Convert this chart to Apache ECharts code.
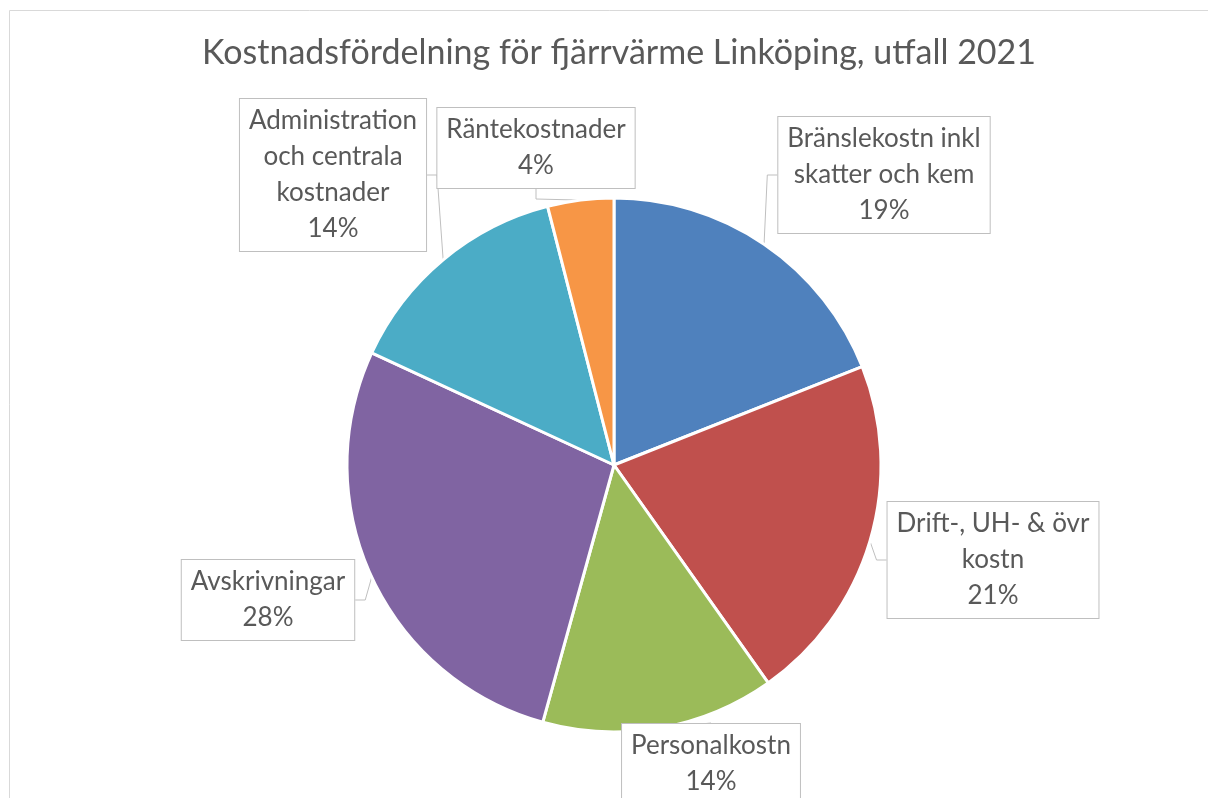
<!DOCTYPE html>
<html>
<head>
<meta charset="utf-8">
<script src="https://cdn.jsdelivr.net/npm/echarts@6/dist/echarts.min.js"></script>
<style>
  html, body { margin: 0; padding: 0; background: #fff; }
  #chart { width: 1208px; height: 798px; }
</style>
</head>
<body>
<div id="chart"></div>
<script>
// kategorier och andelar (procent)
var categories = [
  'Bränslekostn inkl\nskatter och kem',
  'Drift-, UH- & övr\nkostn',
  'Personalkostn',
  'Avskrivningar',
  'Administration\noch centrala\nkostnader',
  'Räntekostnader'
];
var shares = [19.0, 21.2, 14.1, 27.6, 14.1, 4.0];
var colors = ['#4f81bd', '#c0504d', '#9bbb59', '#8064a2', '#4bacc6', '#f79646'];

// etikettrutornas mittpunkter
var labelPos = [
  [884, 175],
  [993, 560],
  [711, 764],
  [268, 600],
  [333, 175],
  [536, 148]
];

var chart = echarts.init(document.getElementById('chart'));
var option = {
  animation: false,
  title: {
    text: 'Kostnadsfördelning för fjärrvärme Linköping, utfall 2021',
    left: 197,
    top: 31,
    textStyle: {
      fontFamily: 'Lato',
      fontWeight: 'normal',
      fontSize: 34,
      color: '#595959'
    }
  },
  graphic: [{
    type: 'rect',
    silent: true,
    shape: { x: 9.5, y: 10.5, width: 1300, height: 900 },
    style: { fill: null, stroke: '#d9d9d9', lineWidth: 1 }
  }],
  series: [{
    type: 'pie',
    center: [614, 465],
    radius: [0, 267],
    startAngle: 90,
    clockwise: true,
    percentPrecision: 0,
    itemStyle: {
      borderColor: '#fff',
      borderWidth: 3
    },
    label: {
      show: true,
      position: 'outside',
      formatter: '{b}\n{d}%',
      fontFamily: 'Lato',
      fontSize: 26,
      lineHeight: 36,
      color: '#595959',
      align: 'center',
      backgroundColor: '#fff',
      borderColor: '#bfbfbf',
      borderWidth: 1,
      padding: [6, 9, 2, 9]
    },
    labelLine: {
      show: true,
      length: 10,
      length2: 10,
      lineStyle: { color: '#bfbfbf', width: 1 }
    },
    labelLayout: function (params) {
      var p = labelPos[params.dataIndex];
      return {
        x: p[0],
        y: p[1],
        align: 'center',
        verticalAlign: 'middle'
      };
    },
    data: categories.map(function (c, i) {
      return { name: c, value: shares[i], itemStyle: { color: colors[i] } };
    })
  }]
};
chart.setOption(option);
</script>
</body>
</html>
